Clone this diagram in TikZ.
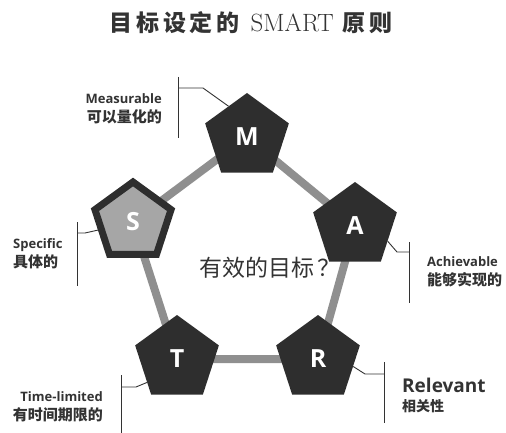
\documentclass[tikz,border=0pt]{standalone}
\usepackage{fontspec}
\usepackage{tikz}
\usetikzlibrary{shapes.geometric,backgrounds}
\newfontfamily\cjk{Noto Sans CJK SC}
\newfontfamily\lab{Open Sans}
\definecolor{pentdark}{HTML}{2E2E2E}
\definecolor{pentlight}{HTML}{A6A6A6}
\definecolor{linkgray}{HTML}{8F8F8F}
\definecolor{inkgray}{HTML}{333333}

\tikzset{
	penta/.style={regular polygon, regular polygon sides=5, minimum size=88pt,
		inner sep=0pt, fill=pentdark, text=white,
		font=\lab\bfseries\fontsize{25}{25}\selectfont},
	link/.style={draw=linkgray, line width=8pt},
	brace/.style={draw=inkgray, line width=0.9pt},
	lbl/.style={text=inkgray, inner sep=0pt, font=\fontsize{13}{19}\selectfont}
}

\begin{document}
\begin{tikzpicture}[x=1pt,y=-1pt]
	\useasboundingbox (0,0) rectangle (506,433);
	\node[text=inkgray] (title) at (251,23) {\cjk\bfseries\fontsize{23}{23}\selectfont 目\,标\,设\,定\,的\hspace{11pt}{\rmfamily\mdseries\fontsize{25}{25}\selectfont SMART}\hspace{9pt}原\,则};

	% the five letters
	\node[penta] (m) at (247,137) {M};
	\node[penta] (a) at (355,226) {A};
	\node[penta] (r) at (318,359) {R};
	\node[penta] (t) at (177,359) {T};
	\node[penta, fill=pentlight, draw=pentdark, line width=7pt, minimum size=80pt] (s) at (133,222) {S};
	\begin{pgfonlayer}{background}
	\draw[link] (m.center) -- (a.center) -- (r.center) -- (t.center) -- (s.center) -- cycle;
	\end{pgfonlayer}

	\node[text=inkgray] (goal) at (270,268) {\cjk\fontsize{23}{23}\selectfont 有效的目标\,？};

	% Measurable
	\coordinate (mtop) at (178,77);
	\coordinate (mbot) at (178,138);
	\coordinate (mknee) at (203,88);
	\draw[brace] (mtop) -- (mbot);
	\draw[brace] (m.121) -- (mknee) -- (178,88);
	\node[lbl, anchor=east, align=right] (mlab) at (162,109) {{\lab\bfseries Measurable}\\{\cjk\bfseries\fontsize{15}{19}\selectfont 可以量化的}};

	% Specific
	\coordinate (stop) at (77,222);
	\coordinate (sbot) at (77,286);
	\coordinate (sknee) at (85,233);
	\draw[brace] (stop) -- (sbot);
	\draw[brace] (s.193) -- (sknee) -- (77,233);
	\node[lbl, anchor=west, align=left] (slab) at (13,254) {{\lab\bfseries Specific}\\{\cjk\bfseries\fontsize{15}{19}\selectfont 具体的}};

	% Achievable
	\coordinate (atop) at (409,242);
	\coordinate (abot) at (409,303);
	\coordinate (aknee) at (397,252);
	\draw[brace] (atop) -- (abot);
	\draw[brace] (a.335) -- (aknee) -- (409,252);
	\node[lbl, anchor=west, align=left] (alab) at (427,272) {{\lab\bfseries Achievable}\\{\cjk\bfseries\fontsize{15}{19}\selectfont 能够实现的}};

	% Relevant
	\coordinate (rtop) at (384,362);
	\coordinate (rbot) at (384,423);
	\coordinate (rknee) at (365,374);
	\draw[brace] (rtop) -- (rbot);
	\draw[brace] (r.348) -- (rknee) -- (384,374);
	\node[lbl, anchor=west, align=left] (rlab) at (402,395) {{\lab\bfseries\fontsize{19}{25}\selectfont Relevant}\\{\cjk\bfseries\fontsize{14}{19}\selectfont 相关性}};

	% Time-limited
	\coordinate (ttop) at (121,375);
	\coordinate (tbot) at (121,433);
	\coordinate (tknee) at (136,387);
	\draw[brace] (ttop) -- (tbot);
	\draw[brace] (t.218) -- (tknee) -- (121,387);
	\node[lbl, anchor=east, align=right] (tlab) at (103,407) {{\lab\bfseries Time-limited}\\{\cjk\bfseries\fontsize{15}{19}\selectfont 有时间期限的}};
\end{tikzpicture}
\end{document}
